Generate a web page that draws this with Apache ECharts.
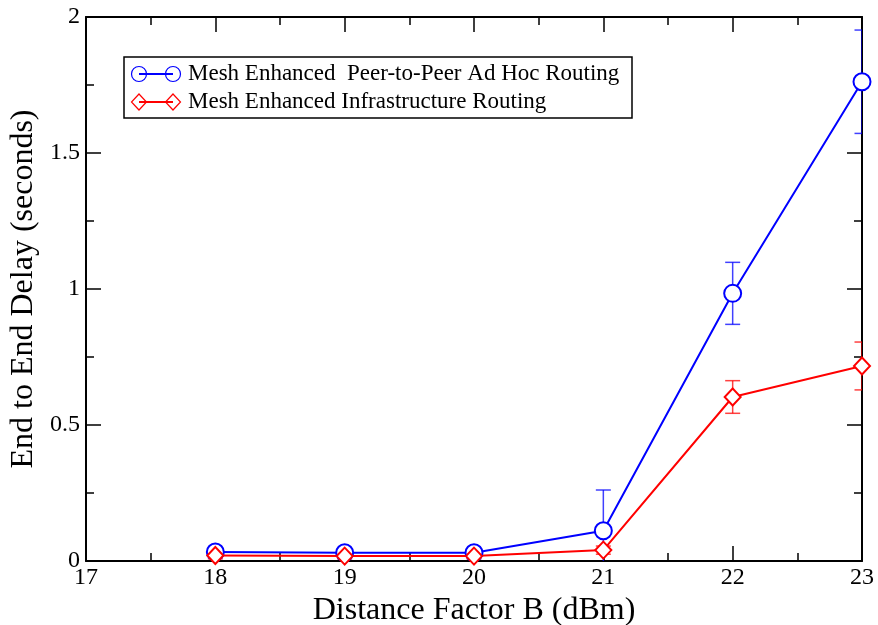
<!DOCTYPE html>
<html>
<head>
<meta charset="utf-8">
<script src="https://cdn.jsdelivr.net/npm/echarts@6/dist/echarts.min.js"></script>
<style>html,body{margin:0;padding:0;background:#fff}#c{width:878px;height:625px}</style>
</head>
<body>
<div id="c"></div>
<script>
var xValues = [18, 19, 20, 21, 22, 23];
var adhocDelay = [0.033, 0.030, 0.030, 0.111, 0.984, 1.762];
var adhocErr = [0.010, 0.008, 0.008, 0.150, 0.114, 0.190];
var infraDelay = [0.020, 0.018, 0.018, 0.040, 0.603, 0.717];
var infraErr = [0.012, 0.010, 0.010, 0.015, 0.060, 0.088];
var seriesNames = ['Mesh Enhanced  Peer-to-Peer Ad Hoc Routing', 'Mesh Enhanced Infrastructure Routing'];

var FONT = 'Liberation Serif';
var chart = echarts.init(document.getElementById('c'));

function pairs(xs, ys) { return xs.map(function (x, i) { return [x, ys[i]]; }); }
function errData(xs, ys, es) { return xs.map(function (x, i) { return [x, ys[i] - es[i], ys[i] + es[i]]; }); }
function errSeries(data, color) {
  return {
    type: 'custom', data: data, clip: true, z: 1, silent: true,
    renderItem: function (params, api) {
      var x = api.value(0);
      var lo = api.coord([x, api.value(1)]);
      var hi = api.coord([x, api.value(2)]);
      var hw = 7.5;
      var st = { stroke: color, lineWidth: 1.5, opacity: 0.75 };
      return { type: 'group', children: [
        { type: 'line', shape: { x1: lo[0], y1: lo[1], x2: hi[0], y2: hi[1] }, style: st },
        { type: 'line', shape: { x1: hi[0] - hw, y1: hi[1], x2: hi[0] + hw, y2: hi[1] }, style: st },
        { type: 'line', shape: { x1: lo[0] - hw, y1: lo[1], x2: lo[0] + hw, y2: lo[1] }, style: st }
      ]};
    }
  };
}
var axisLine = { show: true, onZero: false, lineStyle: { color: '#000', width: 2 } };
var tick = { show: true, inside: true, length: 15, lineStyle: { color: '#000', width: 1.5 } };
var minor = { show: true, splitNumber: 2, length: 8, lineStyle: { color: '#000', width: 1.5 } };
var lbl = { fontFamily: FONT, fontSize: 24, color: '#000' };

var option = {
  animation: false,
  backgroundColor: '#fff',
  grid: { left: 86, right: 16, top: 17, bottom: 64, containLabel: false, outerBoundsMode: 'none' },
  xAxis: [
    { type: 'value', min: 17, max: 23, interval: 1, position: 'bottom',
      axisLine: axisLine, axisTick: tick, minorTick: minor, splitLine: { show: false },
      axisLabel: Object.assign({ margin: 5 }, lbl),
      name: 'Distance Factor B (dBm)', nameLocation: 'middle', nameGap: 25,
      nameTextStyle: { fontFamily: FONT, fontSize: 32, color: '#000' } },
    { type: 'value', min: 17, max: 23, interval: 1, position: 'top',
      axisLine: axisLine, axisTick: tick, minorTick: minor, splitLine: { show: false },
      axisLabel: { show: false } }
  ],
  yAxis: [
    { type: 'value', min: 0, max: 2, interval: 0.5, position: 'left',
      axisLine: axisLine, axisTick: tick, minorTick: minor, splitLine: { show: false },
      axisLabel: Object.assign({ margin: 6 }, lbl),
      name: 'End to End Delay (seconds)', nameLocation: 'middle', nameGap: 38,
      nameTextStyle: { fontFamily: FONT, fontSize: 32, color: '#000' } },
    { type: 'value', min: 0, max: 2, interval: 0.5, position: 'right',
      axisLine: axisLine, axisTick: tick, minorTick: minor, splitLine: { show: false },
      axisLabel: { show: false } }
  ],
  series: [
    errSeries(errData(xValues, adhocDelay, adhocErr), '#0000ff'),
    errSeries(errData(xValues, infraDelay, infraErr), '#ff0000'),
    { name: seriesNames[0], type: 'line', data: pairs(xValues, adhocDelay), clip: false, z: 3,
      symbol: 'emptyCircle', symbolSize: 17, color: '#0000ff',
      lineStyle: { color: '#0000ff', width: 2 }, itemStyle: { color: '#0000ff', borderColor: '#0000ff', borderWidth: 1.2 } },
    { name: seriesNames[1], type: 'line', data: pairs(xValues, infraDelay), clip: false, z: 3,
      symbol: 'emptyDiamond', symbolSize: [16, 17], color: '#ff0000',
      lineStyle: { color: '#ff0000', width: 2 }, itemStyle: { color: '#ff0000', borderColor: '#ff0000', borderWidth: 1.2 } }
  ],
  graphic: [
    { type: 'rect', shape: { x: 124, y: 57, width: 508, height: 61 }, style: { fill: '#fff', stroke: '#000', lineWidth: 1.5 }, z: 10 },
    { type: 'line', shape: { x1: 139, y1: 74, x2: 173, y2: 74 }, style: { stroke: '#0000ff', lineWidth: 2 }, z: 11 },
    { type: 'circle', shape: { cx: 139, cy: 74, r: 7.5 }, style: { fill: 'none', stroke: '#0000ff', lineWidth: 1.2 }, z: 11 },
    { type: 'circle', shape: { cx: 173, cy: 74, r: 7.5 }, style: { fill: 'none', stroke: '#0000ff', lineWidth: 1.2 }, z: 11 },
    { type: 'line', shape: { x1: 139, y1: 102, x2: 173, y2: 102 }, style: { stroke: '#ff0000', lineWidth: 2 }, z: 11 },
    { type: 'polygon', shape: { points: [[139, 94], [146.5, 102], [139, 110], [131.5, 102]] }, style: { fill: 'none', stroke: '#ff0000', lineWidth: 1.2 }, z: 11 },
    { type: 'polygon', shape: { points: [[173, 94], [180.5, 102], [173, 110], [165.5, 102]] }, style: { fill: 'none', stroke: '#ff0000', lineWidth: 1.2 }, z: 11 },
    { type: 'text', x: 188, y: 74, style: { text: seriesNames[0], fontFamily: FONT, fontSize: 23, fill: '#000', verticalAlign: 'middle', whiteSpace: 'pre' }, z: 11 },
    { type: 'text', x: 188, y: 102, style: { text: seriesNames[1], fontFamily: FONT, fontSize: 23, fill: '#000', verticalAlign: 'middle' }, z: 11 }
  ]
};
chart.setOption(option);
</script>
</body>
</html>
